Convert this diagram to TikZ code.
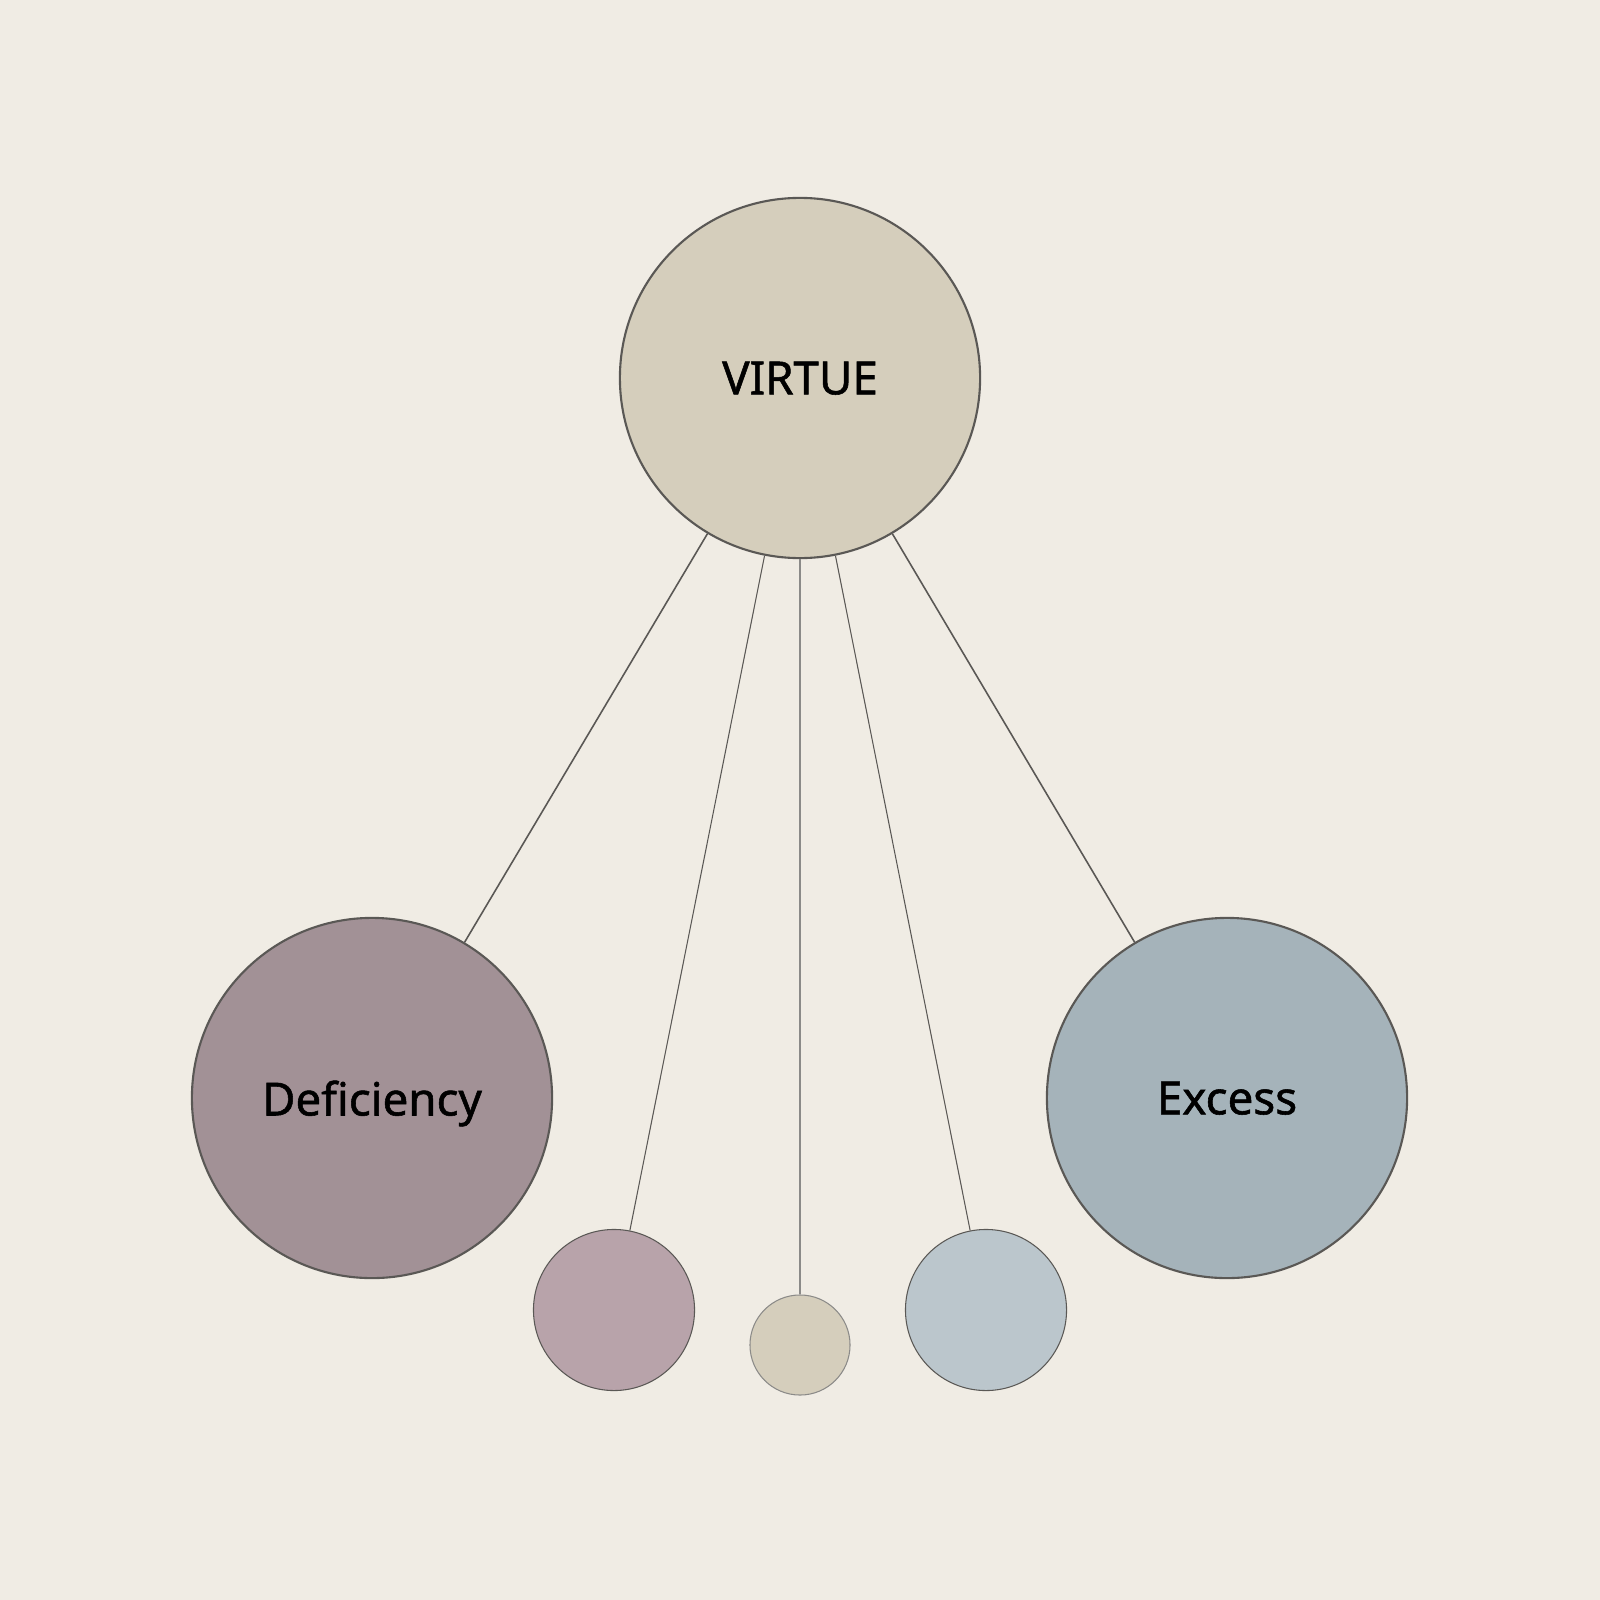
\documentclass[tikz,border=0pt]{standalone}
\usepackage{fontspec}
\setmainfont{Noto Sans}
\newfontfamily\labelfont{Noto Sans}[FakeBold=1.2]
\usetikzlibrary{positioning}

\definecolor{paper}{HTML}{F0ECE4}
\definecolor{rim}{HTML}{5A5855}
\definecolor{virtuefill}{HTML}{D5CEBC}
\definecolor{lackfill}{HTML}{A29196}
\definecolor{toomuchfill}{HTML}{A5B3BA}
\definecolor{lacklight}{HTML}{B8A3AA}
\definecolor{toomuchlight}{HTML}{BBC6CC}

\begin{document}
\begin{tikzpicture}[x=0.01cm, y=-0.01cm,
    big/.style={circle, draw=rim, line width=0.6pt, minimum size=3.6cm, inner sep=0pt,
        text depth=0pt, font=\labelfont\fontsize{13}{16}\selectfont},
    small/.style={circle, draw=rim, line width=0.3pt, inner sep=0pt},
    link/.style={draw=rim, line width=0.45pt},
    thin link/.style={draw=rim, line width=0.3pt}]
    \fill[paper] (0,0) rectangle (1600,1600);
    \useasboundingbox (0,0) rectangle (1600,1600);

    \node [big, fill=virtuefill] (virtue) at (800,378) {VIRTUE};
    \node [big, fill=lackfill] (deficiency) at (372,1098) {Deficiency};
    \node [big, fill=toomuchfill] (excess) at (1227,1098) {Excess};
    \node [small, fill=lacklight, minimum size=1.61cm] (lessdot) at (614,1310) {};
    \node [small, fill=virtuefill, draw=rim!70, minimum size=1.0cm] (meandot) at (800,1345) {};
    \node [small, fill=toomuchlight, minimum size=1.61cm] (moredot) at (986,1310) {};

    \draw[link]
    (virtue) -- (deficiency)
    (virtue) -- (excess);
    \draw[thin link]
    (virtue) -- (lessdot)
    (virtue) -- (moredot);
    \draw[thin link, draw=rim!70] (virtue) -- (meandot);
\end{tikzpicture}
\end{document}
